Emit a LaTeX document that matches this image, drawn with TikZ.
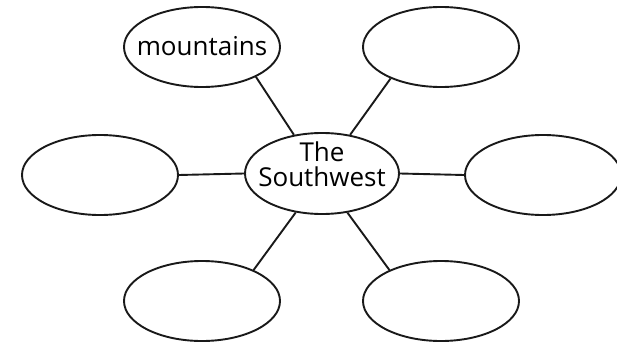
\documentclass[tikz,border=0pt]{standalone}
\usepackage{fontspec}
\setmainfont{Open Sans}
\usetikzlibrary{shapes.geometric}
\begin{document}
\begin{tikzpicture}[x=1pt,y=1pt,
  bubble/.style={draw=black!90, line width=1.9pt, ellipse, inner sep=0pt,
    minimum width=156pt, minimum height=80pt},
  txt/.style={inner sep=0pt, align=center, font=\fontsize{26}{25}\selectfont},
  link/.style={draw=black!90, line width=1.9pt}]
\useasboundingbox (0,0) rectangle (617,-342);
\node[bubble, minimum width=154pt, minimum height=81pt] (c) at (322,-173.5) {};
\node[txt] (ct) at (322,-164.5) {The\\Southwest};
\node[bubble] (tl) at (202,-47) {};
\node[txt] (tlt) at (202,-46) {mountains};
\node[bubble] (tr) at (441,-47) {};
\node[bubble] (l) at (100,-175) {};
\node[bubble] (r) at (543,-175) {};
\node[bubble] (bl) at (202,-301) {};
\node[bubble] (br) at (441,-301) {};
\draw[link] (tl.-29) -- (c.126);
\draw[link] (tr.-148) -- (c.54);
\draw[link] (bl.31) -- (c.-124);
\draw[link] (br.149) -- (c.-57);
\draw[link] (l.east) -- (c.west);
\draw[link] (r.west) -- (c.east);
\end{tikzpicture}
\end{document}
